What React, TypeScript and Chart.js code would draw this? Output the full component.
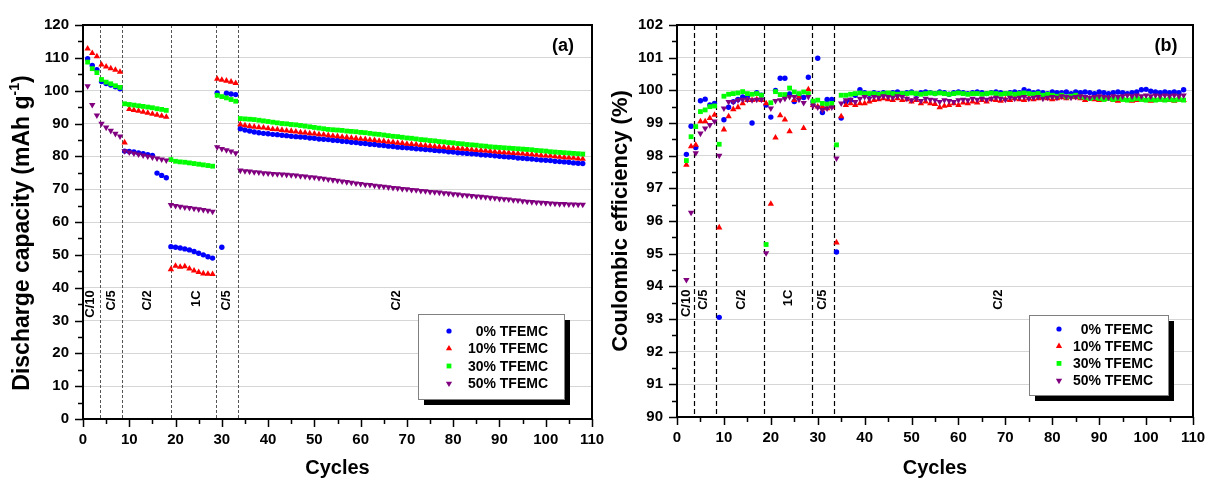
import React, { useEffect, useRef } from 'react';
import { Chart, registerables } from 'chart.js';

Chart.register(...registerables);
Chart.defaults.font.family = "'Liberation Sans', Arial, Helvetica, sans-serif";

// ---------- data ----------
const SERIES_NAMES = ['0% TFEMC', '10% TFEMC', '30% TFEMC', '50% TFEMC'];
const SERIES_COLORS = ['#0000ff', '#ff0000', '#00ff00', '#800080'];
const RATE_LABELS = ['C/10', 'C/5', 'C/2', '1C', 'C/5', 'C/2'];
const RATE_BOUNDARIES_A = [3.7, 8.5, 18.95, 28.7, 33.4];
const RATE_BOUNDARIES_B = [3.55, 8.4, 18.65, 28.75, 33.4];

const FIRST_CYCLE_A = 1;
const FIRST_CYCLE_B = 2;

// Discharge capacity (mAh g-1), cycles 1..108
const CAP_0 = [
  109.7, 107.7, 106.4, 102.8, 102.2, 101.7, 101.2, 100.6,
  81.6, 81.5, 81.3, 81.0, 80.8, 80.5, 80.3, 74.9, 74.2, 73.5,
  52.5, 52.3, 52.1, 51.8, 51.5, 51.0, 50.5, 50.0, 49.4, 49.0,
  99.3, 52.3, 99.2, 99.0, 98.8,
  88.4, 88.0, 87.7, 87.4, 87.2, 87.0, 86.9, 86.7, 86.6, 86.4,
  86.3, 86.1, 86.0, 85.9, 85.8, 85.6, 85.5, 85.3, 85.2, 85.1,
  84.9, 84.8, 84.6, 84.5, 84.3, 84.2, 84.0, 83.9, 83.7, 83.6,
  83.4, 83.3, 83.1, 83.0, 82.8, 82.7, 82.6, 82.5, 82.3, 82.2,
  82.1, 82.0, 81.8, 81.7, 81.6, 81.4, 81.3, 81.1, 81.0, 80.9,
  80.8, 80.7, 80.5, 80.4, 80.3, 80.2, 80.0, 79.9, 79.8, 79.7,
  79.5, 79.4, 79.3, 79.2, 79.0, 78.9, 78.8, 78.7, 78.5, 78.4,
  78.3, 78.2, 78.0, 77.9, 77.8,
];
const CAP_10 = [
  112.8, 111.4, 110.4, 107.9, 107.3, 106.8, 106.3, 105.7,
  84.2, 94.4, 94.1, 93.8, 93.5, 93.2, 92.9, 92.6, 92.3, 92.0,
  45.6, 46.6, 46.3, 46.5, 45.8, 45.2, 44.7, 44.3, 44.2, 44.1,
  103.6, 103.3, 103.0, 102.7, 102.3,
  89.7, 89.4, 89.2, 89.0, 88.8, 88.7, 88.5, 88.3, 88.2, 88.0,
  87.8, 87.7, 87.5, 87.3, 87.2, 87.0, 86.9, 86.7, 86.6, 86.4,
  86.2, 86.1, 85.9, 85.8, 85.6, 85.5, 85.3, 85.2, 85.0, 84.9,
  84.7, 84.6, 84.4, 84.3, 84.1, 84.0, 83.8, 83.7, 83.6, 83.4,
  83.3, 83.2, 83.0, 82.9, 82.8, 82.6, 82.5, 82.4, 82.3, 82.2,
  82.0, 81.9, 81.8, 81.7, 81.6, 81.4, 81.3, 81.2, 81.1, 81.0,
  80.9, 80.8, 80.7, 80.6, 80.4, 80.3, 80.2, 80.1, 80.0, 79.8,
  79.7, 79.6, 79.5, 79.3, 79.2,
];
const CAP_30 = [
  108.7, 106.7, 105.5, 103.4, 102.6, 102.1, 101.5, 101.0,
  96.0, 95.8, 95.6, 95.4, 95.2, 95.0, 94.8, 94.5, 94.3, 94.0,
  79.0, 78.5, 78.3, 78.2, 78.0, 77.8, 77.6, 77.4, 77.2, 77.0,
  98.6, 98.2, 97.8, 97.3, 96.8,
  91.5, 91.4, 91.3, 91.2, 91.0, 90.8, 90.6, 90.4, 90.2, 90.0,
  89.9, 89.7, 89.6, 89.4, 89.2, 89.0, 88.8, 88.6, 88.4, 88.2,
  88.1, 88.0, 87.9, 87.7, 87.6, 87.5, 87.3, 87.2, 87.0, 86.8,
  86.7, 86.5, 86.3, 86.1, 86.0, 85.8, 85.6, 85.5, 85.3, 85.1,
  85.0, 84.8, 84.7, 84.5, 84.4, 84.2, 84.1, 83.9, 83.8, 83.6,
  83.5, 83.4, 83.2, 83.1, 82.9, 82.8, 82.7, 82.6, 82.5, 82.4,
  82.3, 82.2, 82.1, 82.0, 81.8, 81.7, 81.6, 81.4, 81.3, 81.2,
  81.1, 81.0, 80.9, 80.8, 80.7,
];
const CAP_50 = [
  101.4, 95.7, 92.5, 90.0, 88.8, 87.8, 86.9, 86.1,
  81.6, 81.2, 80.9, 80.6, 80.3, 80.0, 79.7, 79.4, 79.1, 78.8,
  65.2, 64.9, 64.7, 64.5, 64.3, 64.1, 63.9, 63.7, 63.5, 63.2,
  82.8, 82.3, 81.9, 81.5, 81.0,
  75.7, 75.5, 75.4, 75.2, 75.1, 74.9, 74.8, 74.7, 74.6, 74.5,
  74.4, 74.3, 74.2, 74.0, 73.9, 73.7, 73.6, 73.4, 73.2, 73.0,
  72.8, 72.6, 72.4, 72.2, 72.0, 71.8, 71.6, 71.4, 71.3, 71.1,
  70.9, 70.8, 70.6, 70.4, 70.3, 70.1, 70.0, 69.8, 69.7, 69.5,
  69.4, 69.2, 69.1, 69.0, 68.8, 68.7, 68.5, 68.4, 68.2, 68.1,
  68.0, 67.8, 67.7, 67.6, 67.4, 67.3, 67.1, 67.0, 66.9, 66.7,
  66.6, 66.4, 66.2, 66.1, 66.0, 65.9, 65.8, 65.7, 65.6, 65.5,
  65.5, 65.4, 65.4, 65.3, 65.3,
];

// Coulombic efficiency (%), cycles 2..108
const CE_0 = [
  98.04, 98.90, 98.25, 99.68, 99.73, 99.55, 99.60, 93.05, 99.10, 99.48,
  99.65, 99.72, 99.80, 99.82, 99.00, 99.93, 99.85, 99.55, 99.18, 100.00,
  100.37, 100.37, 99.89, 99.66, 99.85, 99.78, 100.40, 99.65, 100.98, 99.32,
  99.72, 99.72, 95.05, 99.15,
  99.65, 99.70, 99.85, 100.02, 99.93, 99.88, 99.93, 99.90, 99.93, 99.88,
  99.93, 99.95, 99.90, 99.93, 99.95, 99.88, 99.93, 99.95, 99.93, 99.90,
  99.95, 99.93, 99.88, 99.93, 99.95, 99.93, 99.90, 99.93, 99.95, 99.93,
  99.90, 99.93, 99.95, 99.93, 99.90, 99.93, 99.95, 99.93, 100.02, 99.97,
  99.93, 99.95, 99.93, 99.90, 99.95, 99.93, 99.93, 99.95, 99.90, 99.95,
  99.93, 99.95, 99.93, 99.90, 99.95, 99.93, 99.90, 99.93, 99.95, 99.93,
  99.90, 99.93, 99.95, 100.02, 100.03, 99.97, 99.95, 99.93, 99.95, 99.93,
  99.95, 99.93, 100.02,
];
const CE_10 = [
  97.72, 98.28, 98.33, 99.05, 99.05, 99.15, 99.25, 95.80, 98.80, 99.20,
  99.42, 99.48, 99.60, 99.70, 99.70, 99.72, 99.70, 99.60, 96.52, 98.55,
  99.23, 99.10, 98.74, 99.70, 99.80, 98.84, 100.03, 99.55, 99.50, 99.50,
  99.45, 99.50, 95.34, 99.20,
  99.55, 99.60, 99.55, 99.60, 99.60, 99.65, 99.70, 99.72, 99.75, 99.72,
  99.70, 99.75, 99.70, 99.72, 99.65, 99.70, 99.60, 99.65, 99.60, 99.58,
  99.48, 99.52, 99.55, 99.60, 99.55, 99.62, 99.60, 99.65, 99.62, 99.70,
  99.65, 99.72, 99.70, 99.68, 99.72, 99.70, 99.75, 99.72, 99.70, 99.75,
  99.72, 99.75, 99.78, 99.75, 99.72, 99.75, 99.78, 99.75, 99.80, 99.78,
  99.75, 99.70, 99.75, 99.72, 99.70, 99.72, 99.75, 99.70, 99.68, 99.72,
  99.70, 99.68, 99.70, 99.72, 99.70, 99.68, 99.70, 99.72, 99.70, 99.70,
  99.68, 99.72, 99.70,
];
const CE_30 = [
  97.85, 98.58, 98.89, 99.35, 99.40, 99.50, 99.52, 98.35, 99.82, 99.88,
  99.90, 99.92, 99.96, 99.90, 99.88, 99.90, 99.85, 95.28, 99.62, 99.96,
  99.87, 99.87, 100.07, 99.95, 99.90, 99.95, 99.90, 99.67, 99.70, 99.60,
  99.58, 99.60, 98.33, 99.85,
  99.85, 99.88, 99.90, 99.92, 99.90, 99.90, 99.90, 99.88, 99.90, 99.92,
  99.90, 99.88, 99.90, 99.90, 99.92, 99.90, 99.88, 99.90, 99.92, 99.90,
  99.92, 99.90, 99.88, 99.90, 99.92, 99.90, 99.88, 99.90, 99.90, 99.88,
  99.90, 99.92, 99.90, 99.88, 99.90, 99.90, 99.88, 99.90, 99.92, 99.90,
  99.88, 99.90, 99.85, 99.88, 99.85, 99.82, 99.85, 99.80, 99.82, 99.85,
  99.80, 99.78, 99.75, 99.78, 99.75, 99.72, 99.75, 99.72, 99.75, 99.72,
  99.70, 99.72, 99.75, 99.72, 99.70, 99.72, 99.70, 99.72, 99.70, 99.72,
  99.70, 99.72, 99.70,
];
const CE_50 = [
  94.20, 96.26, 98.08, 98.68, 98.84, 98.94, 99.05, 98.00, 99.45, 99.65,
  99.65, 99.70, 99.72, 99.72, 99.70, 99.72, 99.72, 95.02, 99.45, 99.68,
  99.70, 99.75, 99.80, 99.80, 99.72, 99.62, 99.80, 99.53, 99.48, 99.40,
  99.45, 99.48, 97.92, 99.60,
  99.70, 99.72, 99.65, 99.75, 99.80, 99.75, 99.80, 99.78, 99.82, 99.80,
  99.78, 99.82, 99.80, 99.75, 99.70, 99.75, 99.68, 99.75, 99.72, 99.70,
  99.65, 99.70, 99.68, 99.65, 99.70, 99.72, 99.70, 99.75, 99.72, 99.75,
  99.72, 99.75, 99.78, 99.75, 99.72, 99.78, 99.75, 99.78, 99.80, 99.75,
  99.78, 99.80, 99.75, 99.78, 99.80, 99.78, 99.82, 99.80, 99.78, 99.80,
  99.82, 99.80, 99.78, 99.80, 99.82, 99.80, 99.78, 99.82, 99.80, 99.82,
  99.85, 99.82, 99.85, 99.82, 99.85, 99.82, 99.85, 99.82, 99.85, 99.82,
  99.85, 99.82, 99.85,
];

// ---------- styling ----------
const FONT = "'Liberation Sans', Arial, Helvetica, sans-serif";
const MARKERS = [
  { style: 'circle', radius: 2.7, rotation: 0 },
  { style: 'triangle', radius: 3.7, rotation: 0 },
  { style: 'rect', radius: 3.4, rotation: 0 },
  { style: 'triangle', radius: 3.7, rotation: 180 },
];

type TitlePart = { text: string; sup?: boolean };

type PanelCfg = {
  series: number[][];
  firstCycle: number;
  yMin: number; yMax: number; yStep: number;
  yTitle: string;
  yTitleParts: TitlePart[] | null;
  yTitleSize: number; yTitleCx: number; yTitleCy: number;
  yWidth: number; yTitlePad: number; yTickPad: number;
  xHeight: number;
  padRight: number; padTop: number;
  boundaries: number[];
  dash: number[]; dashColor: string; dashWidth: number;
  rateX: number[]; rateTopY: number;
  tag: string; tagDx: number;
  legend: { x: number; y: number; w: number; h: number; mx: number; tr: number; r0: number; gap: number };
};

const PANEL_A: PanelCfg = {
  series: [CAP_0, CAP_10, CAP_30, CAP_50],
  firstCycle: FIRST_CYCLE_A,
  yMin: 0, yMax: 120, yStep: 10,
  yTitle: 'Discharge capacity (mAh g-1)',
  yTitleParts: [{ text: 'Discharge capacity (mAh g' }, { text: '-1', sup: true }, { text: ')' }],
  yTitleSize: 23, yTitleCx: 23, yTitleCy: 233,
  yWidth: 83, yTitlePad: 9, yTickPad: 14,
  xHeight: 63,
  padRight: 12, padTop: 25,
  boundaries: RATE_BOUNDARIES_A,
  dash: [3, 2], dashColor: '#555555', dashWidth: 1,
  rateX: [1.7, 6.2, 14.0, 24.5, 31.0, 67.7], rateTopY: 39.2,
  tag: '(a)', tagDx: 29,
  legend: { x: 418, y: 314, w: 146, h: 85, mx: 31, tr: 130, r0: 17, gap: 17.5 },
};

const PANEL_B: PanelCfg = {
  series: [CE_0, CE_10, CE_30, CE_50],
  firstCycle: FIRST_CYCLE_B,
  yMin: 90, yMax: 102, yStep: 1,
  yTitle: 'Coulombic efficiency (%)',
  yTitleParts: null,
  yTitleSize: 22, yTitleCx: 0, yTitleCy: 0,
  yWidth: 73, yTitlePad: 4, yTickPad: 14,
  xHeight: 65,
  padRight: 15, padTop: 25,
  boundaries: RATE_BOUNDARIES_B,
  dash: [5, 3], dashColor: '#000000', dashWidth: 1.2,
  rateX: [2.0, 5.6, 13.7, 23.7, 31.0, 68.5], rateTopY: 93.9,
  tag: '(b)', tagDx: 27,
  legend: { x: 425, y: 315, w: 139, h: 80, mx: 30, tr: 124, r0: 14, gap: 17.2 },
};

function drawMarker(ctx: CanvasRenderingContext2D, i: number, x: number, y: number) {
  ctx.fillStyle = SERIES_COLORS[i];
  ctx.beginPath();
  if (i === 0) {
    ctx.arc(x, y, 2.6, 0, Math.PI * 2);
  } else if (i === 2) {
    ctx.rect(x - 2.4, y - 2.4, 4.8, 4.8);
  } else {
    const s = 3.6;
    const d = i === 1 ? 1 : -1;
    ctx.moveTo(x, y - d * s);
    ctx.lineTo(x - s * 0.866, y + d * s * 0.5);
    ctx.lineTo(x + s * 0.866, y + d * s * 0.5);
    ctx.closePath();
  }
  ctx.fill();
}

const decorPlugin = {
  id: 'decor',
  beforeDatasetsDraw(chart: any, _a: any, o: any) {
    const cfg: PanelCfg = o.cfg;
    const { ctx, chartArea: a } = chart;
    const xs = chart.scales.x;
    ctx.save();
    ctx.strokeStyle = cfg.dashColor;
    ctx.lineWidth = cfg.dashWidth;
    ctx.setLineDash(cfg.dash);
    cfg.boundaries.forEach((v) => {
      const px = Math.round(xs.getPixelForValue(v)) + 0.5;
      ctx.beginPath();
      ctx.moveTo(px, a.top);
      ctx.lineTo(px, a.bottom);
      ctx.stroke();
    });
    ctx.restore();
  },
  afterDatasetsDraw(chart: any, _a: any, o: any) {
    const cfg: PanelCfg = o.cfg;
    const { ctx, chartArea: a } = chart;
    const xs = chart.scales.x;
    const ys = chart.scales.y;
    ctx.save();
    // y title with superscript
    if (cfg.yTitleParts) {
      const big = `bold ${cfg.yTitleSize}px ${FONT}`;
      const small = `bold ${Math.round(cfg.yTitleSize * 0.62)}px ${FONT}`;
      let total = 0;
      const widths = cfg.yTitleParts.map((p) => {
        ctx.font = p.sup ? small : big;
        const w = ctx.measureText(p.text).width;
        total += w;
        return w;
      });
      ctx.save();
      ctx.translate(cfg.yTitleCx, cfg.yTitleCy);
      ctx.rotate(-Math.PI / 2);
      ctx.fillStyle = '#000';
      ctx.textAlign = 'left';
      ctx.textBaseline = 'middle';
      let cx = -total / 2;
      cfg.yTitleParts.forEach((p, i) => {
        ctx.font = p.sup ? small : big;
        ctx.fillText(p.text, cx, p.sup ? -cfg.yTitleSize * 0.33 : 0);
        cx += widths[i];
      });
      ctx.restore();
    }
    // rate labels
    ctx.fillStyle = '#000';
    ctx.font = `bold 13px ${FONT}`;
    ctx.textAlign = 'right';
    ctx.textBaseline = 'middle';
    const ty = ys.getPixelForValue(cfg.rateTopY);
    cfg.rateX.forEach((v, i) => {
      const px = xs.getPixelForValue(v);
      ctx.save();
      ctx.translate(px, ty);
      ctx.rotate(-Math.PI / 2);
      ctx.fillText(RATE_LABELS[i], 0, 0);
      ctx.restore();
    });
    // frame
    ctx.strokeStyle = '#000';
    ctx.lineWidth = 2;
    ctx.strokeRect(a.left, a.top, a.right - a.left, a.bottom - a.top);
    // ticks
    ctx.lineWidth = 1.5;
    ctx.beginPath();
    for (let v = cfg.yMin; v <= cfg.yMax + 1e-9; v += cfg.yStep / 2) {
      const q = (v - cfg.yMin) / cfg.yStep;
      const major = Math.abs(q - Math.round(q)) < 1e-6;
      const py = Math.round(ys.getPixelForValue(v)) + 0.5;
      ctx.moveTo(a.left, py);
      ctx.lineTo(a.left - (major ? 8 : 5), py);
    }
    for (let v = 0; v <= 110 + 1e-9; v += 5) {
      const major = v % 10 === 0;
      const px = Math.round(xs.getPixelForValue(v)) + 0.5;
      ctx.moveTo(px, a.bottom);
      ctx.lineTo(px, a.bottom + (major ? 8 : 5));
    }
    ctx.stroke();
    // tag
    ctx.fillStyle = '#000';
    ctx.font = `bold 18px ${FONT}`;
    ctx.textAlign = 'center';
    ctx.textBaseline = 'middle';
    ctx.fillText(cfg.tag, a.right - cfg.tagDx, a.top + 21);
    // legend
    const L = cfg.legend;
    ctx.fillStyle = '#000';
    ctx.fillRect(L.x + 6, L.y + 6, L.w, L.h);
    ctx.fillStyle = '#fff';
    ctx.fillRect(L.x, L.y, L.w, L.h);
    ctx.strokeStyle = '#808080';
    ctx.lineWidth = 1;
    ctx.strokeRect(L.x + 0.5, L.y + 0.5, L.w, L.h);
    ctx.font = `bold 14px ${FONT}`;
    ctx.textAlign = 'right';
    SERIES_NAMES.forEach((name, i) => {
      const ry = L.y + L.r0 + i * L.gap;
      drawMarker(ctx, i, L.x + L.mx, ry);
      ctx.fillStyle = '#000';
      ctx.fillText(name, L.x + L.tr, ry + 1);
    });
    ctx.restore();
  },
};

function buildConfig(cfg: PanelCfg): any {
  const datasets = cfg.series.map((vals, i) => ({
    label: SERIES_NAMES[i],
    data: vals.map((v, k) => ({ x: cfg.firstCycle + k, y: v })),
    backgroundColor: SERIES_COLORS[i],
    borderColor: SERIES_COLORS[i],
    pointStyle: MARKERS[i].style,
    pointRadius: MARKERS[i].radius,
    pointRotation: MARKERS[i].rotation,
    pointBorderWidth: 0,
    showLine: false,
    order: 3 - i,
  }));
  return {
    type: 'scatter',
    data: { datasets },
    plugins: [decorPlugin],
    options: {
      responsive: false,
      animation: false,
      events: [],
      layout: { padding: { left: 0, right: cfg.padRight, top: cfg.padTop, bottom: 0 } },
      plugins: {
        legend: { display: false },
        tooltip: { enabled: false },
        decor: { cfg },
      },
      scales: {
        x: {
          type: 'linear',
          min: 0,
          max: 110,
          ticks: { stepSize: 10, color: '#000', font: { size: 15, weight: 'bold' }, padding: 12, maxRotation: 0, autoSkip: false },
          grid: { display: false, drawTicks: false },
          border: { display: false },
          title: { display: true, text: 'Cycles', color: '#000', font: { size: 20, weight: 'bold' }, padding: { top: 0, bottom: 2 } },
          afterFit: (s: any) => { s.height = cfg.xHeight; s.paddingLeft = 0; s.paddingRight = 0; },
        },
        y: {
          type: 'linear',
          min: cfg.yMin,
          max: cfg.yMax,
          ticks: { stepSize: cfg.yStep, color: '#000', font: { size: 15, weight: 'bold' }, padding: cfg.yTickPad },
          grid: { color: '#d6d6d6', lineWidth: 1, drawTicks: false },
          border: { display: false },
          title: {
            display: !cfg.yTitleParts,
            text: cfg.yTitle,
            color: '#000',
            font: { size: cfg.yTitleSize, weight: 'bold' },
            padding: { top: cfg.yTitlePad, bottom: 0 },
          },
          afterFit: (s: any) => { s.width = cfg.yWidth; s.paddingTop = 0; s.paddingBottom = 0; },
        },
      },
    },
  };
}

function Panel({ cfg, left }: { cfg: PanelCfg; left: number }) {
  const ref = useRef<HTMLCanvasElement | null>(null);
  useEffect(() => {
    if (!ref.current) return;
    const chart = new Chart(ref.current, buildConfig(cfg));
    return () => chart.destroy();
  }, [cfg]);
  return (
    <canvas
      ref={ref}
      width={604}
      height={482}
      style={{ position: 'absolute', left, top: 0, width: 604, height: 482, display: 'block' }}
    />
  );
}

export default function App() {
  return (
    <div style={{ position: 'absolute', left: 0, top: 0, width: 1208, height: 482, background: '#ffffff', overflow: 'hidden' }}>
      <Panel cfg={PANEL_A} left={0} />
      <Panel cfg={PANEL_B} left={604} />
    </div>
  );
}
